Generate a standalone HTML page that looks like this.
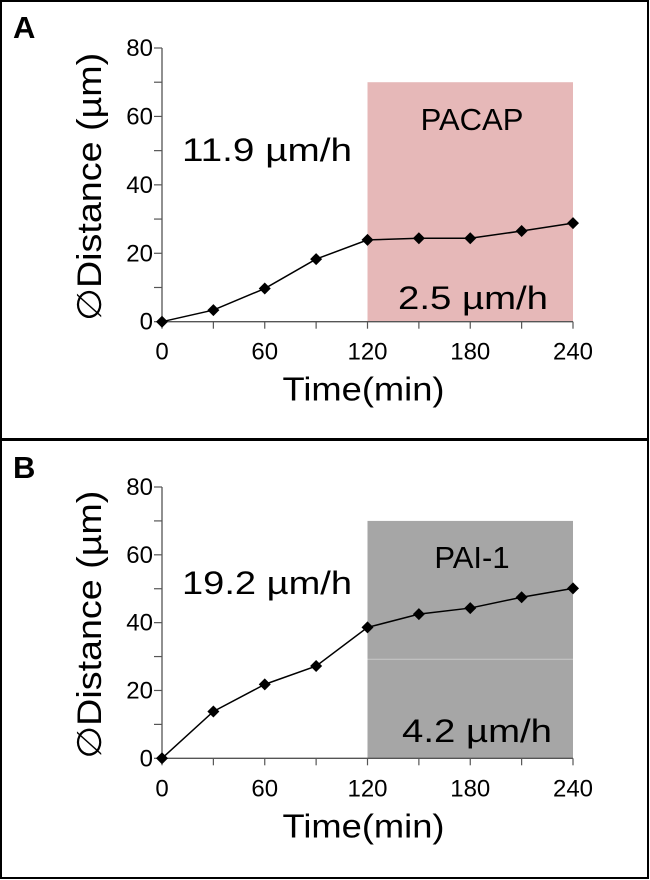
<!DOCTYPE html>
<html><head><meta charset="utf-8"><style>
html,body{margin:0;padding:0;background:#fff;}
svg{display:block;font-family:"Liberation Sans",sans-serif;}
</style></head><body>
<svg id="fig" width="650" height="880" viewBox="0 0 650 880" xmlns="http://www.w3.org/2000/svg">
<rect x="1" y="1" width="647" height="438" fill="#fff" stroke="#000" stroke-width="2"/>
<rect x="1" y="440" width="647" height="438" fill="#fff" stroke="#000" stroke-width="2"/>
<text x="13" y="38" font-size="31" font-weight="bold">A</text>
<text x="13" y="478" font-size="31" font-weight="bold">B</text>
<g id="gA"></g>
<g id="gB"></g>
</svg>
<script>
const times = [0,30,60,90,120,150,180,210,240];
const valuesA = [0,3.4,9.7,18.3,23.9,24.4,24.4,26.5,28.8];
const valuesB = [0,13.8,21.8,27.2,38.6,42.5,44.3,47.5,50.1];
const xTicks = [0,60,120,180,240];
const yTicks = [0,20,40,60,80];
const shadeA = [120,240,0,70];
const shadeB = [120,240,0,70];
const ratesA = ["11.9 µm/h","2.5 µm/h"];
const ratesB = ["19.2 µm/h","4.2 µm/h"];
const NS="http://www.w3.org/2000/svg";
function mk(p,t,a){const e=document.createElementNS(NS,t);for(const k in a)e.setAttribute(k,a[k]);p.appendChild(e);return e;}
function draw(g,cfg){
  const x=v=>cfg.x0+(v-0)/240*(cfg.x1-cfg.x0);
  const y=v=>cfg.y0-(v/80)*(cfg.y0-cfg.y80);
  const r=mk(g,'rect',{x:x(cfg.shade[0]),y:y(cfg.shade[3]),width:x(cfg.shade[1])-x(cfg.shade[0]),height:y(cfg.shade[2])-y(cfg.shade[3]),fill:cfg.fill});
  
  
  if(cfg.artifact!==undefined){const l=mk(g,'line',{x1:x(120),x2:x(240),y1:y(cfg.artifact),y2:y(cfg.artifact),stroke:'#c8c8c8','stroke-width':1});
    }
  const ax=mk(g,'line',{x1:x(0),x2:x(0),y1:y(0),y2:y(80),stroke:'#555','stroke-width':1.3});
  
  const axx=mk(g,'line',{x1:x(0)-5,x2:x(240),y1:y(0),y2:y(0),stroke:'#555','stroke-width':1.3});
  
  for(let v=0;v<=80;v+=10){const t=mk(g,'line',{x1:x(0)-8,x2:x(0),y1:y(v),y2:y(v),stroke:'#555','stroke-width':1.2});
    }
  for(let v=0;v<=240;v+=30){const t=mk(g,'line',{x1:x(v),x2:x(v),y1:y(0),y2:y(0)+7,stroke:'#555','stroke-width':1.2});
    }
  yTicks.forEach(v=>{const t=mk(g,'text',{x:x(0)-9,y:y(v)+8,'font-size':24,'text-anchor':'end'});t.textContent=v;
    });
  xTicks.forEach(v=>{const t=mk(g,'text',{x:x(v),y:y(0)+38,'font-size':24,'text-anchor':'middle'});t.textContent=v;
    });
  const xt=mk(g,'text',{x:(x(0)+x(240))/2-4,y:y(0)+79,'font-size':33,'text-anchor':'middle',textLength:162,lengthAdjust:'spacingAndGlyphs'});xt.textContent='Time(min)';
  
  const cy=(y(0)+y(80))/2+2;
  const yt=mk(g,'text',{x:0,y:0,'font-size':34,'text-anchor':'middle',textLength:268,lengthAdjust:'spacingAndGlyphs',transform:`translate(101,${cy}) rotate(-90)`});yt.textContent='∅Distance (µm)';
  
  const pts=cfg.vals.map((v,i)=>x(times[i])+','+y(v)).join(' ');
  const pl=mk(g,'polyline',{points:pts,fill:'none',stroke:'#000','stroke-width':1.5});
  
  cfg.vals.forEach((v,i)=>{const cx=x(times[i]),c=y(v),s=6;
    const d=mk(g,'polygon',{points:`${cx},${c-s} ${cx+s},${c} ${cx},${c+s} ${cx-s},${c}`,fill:'#000'});
    });
  const t1=mk(g,'text',{x:182,y:cfg.r1y,'font-size':32,textLength:170,lengthAdjust:'spacingAndGlyphs'});t1.textContent=cfg.rates[0];
  
  const t2=mk(g,'text',{x:cfg.r2x,y:cfg.r2y,'font-size':32,textLength:150,lengthAdjust:'spacingAndGlyphs'});t2.textContent=cfg.rates[1];
  
  const lb=mk(g,'text',{x:472,y:cfg.lby,'font-size':31,'text-anchor':'middle'});lb.textContent=cfg.label;
  
}
draw(document.getElementById('gA'),{x0:162,x1:573,y0:321.7,y80:48,vals:valuesA,shade:shadeA,fill:'#e6b8b8',rates:ratesA,r1y:161,r2x:398,r2y:309,label:'PACAP',lby:130});
draw(document.getElementById('gB'),{x0:162,x1:573,y0:758.3,y80:487,vals:valuesB,shade:shadeB,fill:'#a6a6a6',artifact:29.2,rates:ratesB,r1y:594,r2x:402,r2y:742,label:'PAI-1',lby:568});
</script>
</body></html>
